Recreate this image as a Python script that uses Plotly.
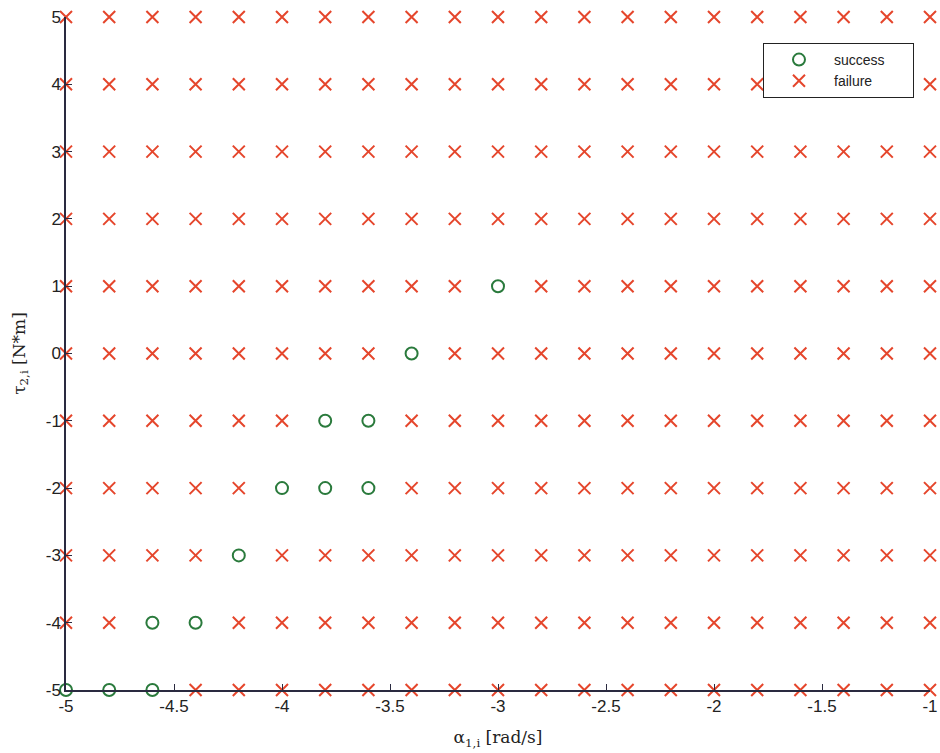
import plotly.graph_objects as go

# Grid of tested values
alpha_values = [-5.0, -4.8, -4.6, -4.4, -4.2, -4.0, -3.8, -3.6, -3.4, -3.2, -3.0,
                -2.8, -2.6, -2.4, -2.2, -2.0, -1.8, -1.6, -1.4, -1.2, -1.0]
tau_values = [-5, -4, -3, -2, -1, 0, 1, 2, 3, 4, 5]

# Successful combinations
success_alpha = [-3.0, -3.4, -3.8, -3.6, -4.0, -3.8, -3.6, -4.2, -4.6, -4.4, -5.0, -4.8, -4.6]
success_tau = [1, 0, -1, -1, -2, -2, -2, -3, -4, -4, -5, -5, -5]

x_tickvals = [-5, -4.5, -4, -3.5, -3, -2.5, -2, -1.5, -1]
x_ticktext = ["-5", "-4.5", "-4", "-3.5", "-3", "-2.5", "-2", "-1.5", "-1"]
y_tickvals = [-5, -4, -3, -2, -1, 0, 1, 2, 3, 4, 5]
y_ticktext = ["-5", "-4", "-3", "-2", "-1", "0", "1", "2", "3", "4", "5"]

succ_set = set(zip([round(a, 1) for a in success_alpha], success_tau))
fail_alpha, fail_tau = [], []
for t in tau_values:
    for a in alpha_values:
        if (round(a, 1), t) not in succ_set:
            fail_alpha.append(a)
            fail_tau.append(t)

GREEN = "#2a7a3c"
RED = "#e5462c"
AX = "#2a2a40"
PAD = "\u00a0" * 6

fig = go.Figure()
fig.add_trace(go.Scatter(
    x=success_alpha, y=success_tau, mode="markers", name="success" + PAD,
    marker=dict(symbol="circle-open", size=12, color=GREEN,
                line=dict(width=2, color=GREEN)),
    cliponaxis=False,
))
fig.add_trace(go.Scatter(
    x=fail_alpha, y=fail_tau, mode="markers", name="failure",
    marker=dict(symbol="x-thin-open", size=12, color=RED,
                line=dict(width=2, color=RED)),
    cliponaxis=False,
))

fig.update_layout(
    width=940, height=753,
    margin=dict(l=66, r=10, t=17, b=63, autoexpand=False),
    paper_bgcolor="white", plot_bgcolor="white",
    font=dict(family="Liberation Sans, Arial, sans-serif", size=17, color="#222"),
    showlegend=True,
    legend=dict(x=0.8067, y=0.9614, xanchor="left", yanchor="top",
                bordercolor="#222", borderwidth=1, bgcolor="white",
                font=dict(size=14), tracegroupgap=0, itemwidth=60),
    xaxis=dict(range=[-5, -1], tickvals=x_tickvals, ticktext=x_ticktext,
               automargin=False,
               showgrid=False, zeroline=False, showline=True, linecolor=AX,
               linewidth=1.5, ticks="inside", ticklen=6, tickcolor=AX,
               title=dict(text="α<sub>1,i</sub> [rad/s]", standoff=16,
                          font=dict(family="DejaVu Serif, Liberation Serif, serif", size=17))),
    yaxis=dict(range=[-5, 5], tickvals=y_tickvals, ticktext=y_ticktext,
               automargin=False,
               showgrid=False, zeroline=False, showline=True, linecolor=AX,
               linewidth=1.5, ticks="inside", ticklen=6, tickcolor=AX,
               title=dict(text="τ<sub>2,i</sub> [N*m]", standoff=16,
                          font=dict(family="DejaVu Serif, Liberation Serif, serif", size=17))),
)

fig.write_html(
    "out.html",
    config={"displayModeBar": False},
    post_script="document.body.style.margin='0';document.body.style.overflow='hidden';",
)
